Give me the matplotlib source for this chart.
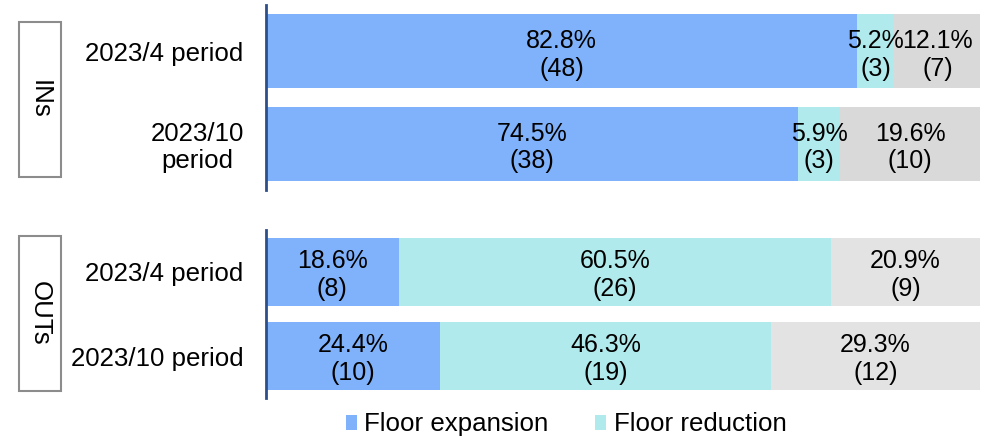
import matplotlib.pyplot as plt
from matplotlib.patches import Rectangle, Patch

plt.rcParams['font.family'] = ['Liberation Sans', 'DejaVu Sans']

# counts per category: floor expansion / floor reduction / no change
ins_labels = ['2023/4 period', '2023/10\nperiod']
ins_counts = [[48, 3, 7], [38, 3, 10]]
ins_pcts = [[82.8, 5.2, 12.1], [74.5, 5.9, 19.6]]

outs_labels = ['2023/4 period', '2023/10 period']
outs_counts = [[8, 26, 9], [10, 19, 12]]
outs_pcts = [[18.6, 60.5, 20.9], [24.4, 46.3, 29.3]]

legend_names = ['Floor expansion', 'Floor reduction']
BLUE = '#7fb2fa'
CYAN = '#b1eaec'
SPINE = '#2c4f8c'
FS = 18
FS_TICK = 18.6


def draw_group(ax, labels, counts, pcts, grey):
    colors = [BLUE, CYAN, grey]
    for i, (row_n, row_p) in enumerate(zip(counts, pcts)):
        left = 0
        for n, p, c in zip(row_n, row_p, colors):
            ax.barh(i, p, left=left, height=0.8, color=c, edgecolor='none')
            ax.text(left + p / 2, i + 0.04, f'{p}%\n({n})', ha='center', va='center',
                    fontsize=FS, linespacing=1.2)
            left += p
    ax.set_xlim(0, 100)
    ax.set_ylim(1.5, -0.5)
    ax.set_yticks(range(len(labels)))
    ax.set_yticklabels(labels, fontsize=FS_TICK, linespacing=1.15)
    ax.tick_params(axis='y', length=0, pad=16)
    ax.set_xticks([])
    for side in ['top', 'right', 'bottom']:
        ax.spines[side].set_visible(False)
    ax.spines['left'].set_color(SPINE)
    ax.spines['left'].set_linewidth(2)
    for t in ax.get_yticklabels():
        t.set_multialignment('center')


fig = plt.figure(figsize=(9.95, 4.38), dpi=100)
ax_in = fig.add_axes((0.2673, 0.566, 0.7176, 0.4224))
ax_out = fig.add_axes((0.2673, 0.0913, 0.7176, 0.3836))

draw_group(ax_in, ins_labels, ins_counts, ins_pcts, '#d9d9d9')
draw_group(ax_out, outs_labels, outs_counts, outs_pcts, '#e3e3e3')

# boxed group names on the left
W, H = 995, 438
for name, top, bottom in [('INs', 22, 177), ('OUTs', 236, 391)]:
    x0, x1 = 19 / W, 61 / W
    y0, y1 = 1 - bottom / H, 1 - top / H
    fig.add_artist(Rectangle((x0, y0), x1 - x0, y1 - y0, transform=fig.transFigure,
                             facecolor='white', edgecolor='#8c8c8c', linewidth=1.5))
    fig.text((x0 + x1) / 2, (y0 + y1) / 2, name, rotation=270, ha='center', va='center',
             fontsize=FS_TICK)

handles = [Patch(facecolor=BLUE), Patch(facecolor=CYAN)]
fig.legend(handles, legend_names, loc='center', bbox_to_anchor=(0.569, 0.031),
           ncol=2, frameon=False, fontsize=FS_TICK, handlelength=0.43, handleheight=0.5,
           handletextpad=0.3, columnspacing=1.8, borderpad=0)

fig.savefig('out.png', dpi=100)
